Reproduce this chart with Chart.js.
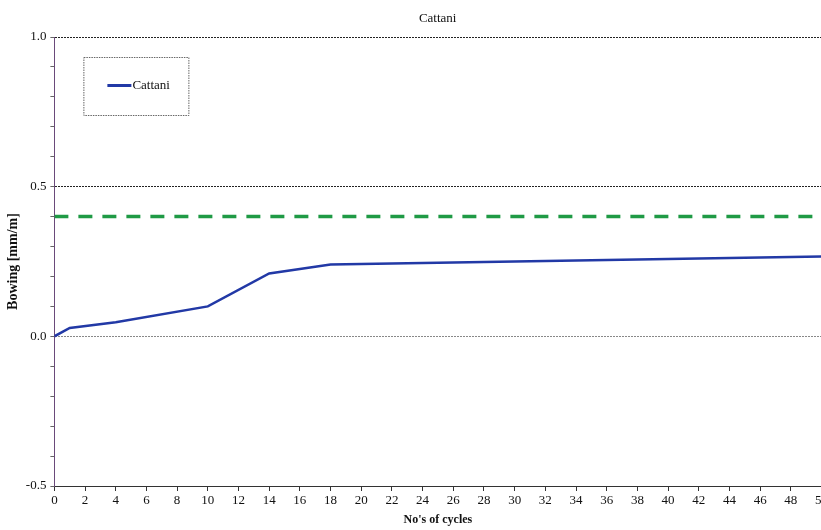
<!DOCTYPE html>
<html>
<head>
<meta charset="utf-8">
<script src="https://cdn.jsdelivr.net/npm/chart.js@4.4.1/dist/chart.umd.min.js"></script>
<style>
  html, body { margin: 0; padding: 0; background: #fff; overflow: hidden; }
  #wrap { position: relative; width: 830px; height: 530px; }
</style>
</head>
<body>
<div id="wrap"><canvas id="c"></canvas></div>
<script>
// ---- data ----
const chartTitle = "Cattani";
const seriesName = "Cattani";
const cycles = [0, 1, 4, 10, 14, 18, 30, 50];
const bowing = [0, 0.028, 0.047, 0.1, 0.21, 0.24, 0.25, 0.267];
const limitX = [0, 50];
const limitY = [0.4, 0.4];
const xTitle = "No's of cycles";
const yTitle = "Bowing [mm/m]";
const yMajorLabels = [-0.5, 0.0, 0.5, 1.0];

const serif = "'Liberation Serif', 'DejaVu Serif', serif";

const insideLegend = {
  id: 'insideLegend',
  afterDraw(chart) {
    const { ctx, chartArea } = chart;
    // title centred over the plot area
    ctx.save();
    ctx.fillStyle = '#111';
    ctx.font = "13px " + serif;
    ctx.textAlign = 'center';
    ctx.textBaseline = 'middle';
    ctx.fillText(chart.options.plugins.customTitle.text, (chartArea.left + 821) / 2, 19);
    ctx.restore();

    const x0 = chartArea.left + 29, y0 = chartArea.top + 20, w = 105, h = 58;
    ctx.save();
    ctx.fillStyle = '#fff';
    ctx.fillRect(x0, y0, w, h);
    ctx.strokeStyle = '#666';
    ctx.lineWidth = 1;
    ctx.setLineDash([1.5, 1]);
    ctx.strokeRect(x0 + 0.5, y0 + 0.5, w, h);
    ctx.setLineDash([]);
    const ds = chart.data.datasets[0];
    ctx.strokeStyle = ds.borderColor;
    ctx.lineWidth = 3;
    ctx.beginPath();
    ctx.moveTo(x0 + 24, y0 + 28.5);
    ctx.lineTo(x0 + 48, y0 + 28.5);
    ctx.stroke();
    ctx.fillStyle = '#111';
    ctx.font = "13px " + serif;
    ctx.textBaseline = 'middle';
    ctx.fillText(ds.label, x0 + 49, y0 + 28.5);
    ctx.restore();
  }
};

new Chart(document.getElementById('c'), {
  type: 'line',
  data: {
    datasets: [
      {
        label: seriesName,
        data: cycles.map((x, i) => ({ x: x, y: bowing[i] })),
        borderColor: '#2239a6',
        borderWidth: 2.5,
        pointRadius: 0,
        tension: 0,
        order: 1
      },
      {
        label: 'limit',
        data: limitX.map((x, i) => ({ x: x, y: limitY[i] })),
        borderColor: '#1f9a45',
        borderWidth: 3.5,
        borderDash: [14, 10],
        pointRadius: 0,
        order: 2
      }
    ]
  },
  options: {
    responsive: true,
    maintainAspectRatio: false,
    animation: false,
    layout: { padding: { top: 37, left: 0, right: 0, bottom: 3 } },
    plugins: {
      legend: { display: false },
      tooltip: { enabled: false },
      title: { display: false },
      customTitle: { text: chartTitle }
    },
    scales: {
      x: {
        type: 'linear',
        min: 0,
        max: 50,
        ticks: {
          stepSize: 2,
          color: '#111',
          font: { family: serif, size: 13 },
          padding: 2,
          maxRotation: 0,
          autoSkip: false
        },
        grid: {
          drawOnChartArea: false,
          drawTicks: true,
          tickLength: 5,
          tickColor: '#333'
        },
        border: { color: '#333', width: 1 },
        title: {
          display: true,
          text: xTitle,
          color: '#111',
          font: { family: serif, size: 12, weight: 'bold' },
          padding: { top: 2, bottom: 0 }
        }
      },
      y: {
        min: -0.5,
        max: 1.0,
        ticks: {
          stepSize: 0.1,
          color: '#111',
          font: { family: serif, size: 13 },
          padding: 4,
          autoSkip: false,
          callback: function (v) {
            const r = Math.round(v * 10) / 10;
            return yMajorLabels.some(m => Math.abs(m - r) < 1e-6) ? r.toFixed(1) : '';
          }
        },
        grid: {
          tickLength: 4,
          tickColor: '#666',
          lineWidth: 1,
          color: function (c) {
            const v = Math.round(c.tick.value * 10) / 10;
            if (Math.abs(v) < 1e-6) return '#888';
            if (Math.abs(v - 0.5) < 1e-6 || Math.abs(v - 1.0) < 1e-6) return '#222';
            return 'rgba(0,0,0,0)';
          },
          borderDash: [2, 1]
        },
        border: { color: '#6a4a7a', width: 1, dash: [2, 1] },
        title: {
          display: true,
          text: yTitle,
          color: '#111',
          font: { family: serif, size: 14, weight: 'bold' },
          padding: { top: 5, bottom: 0 }
        }
      }
    }
  },
  plugins: [insideLegend]
});
</script>
</body>
</html>
